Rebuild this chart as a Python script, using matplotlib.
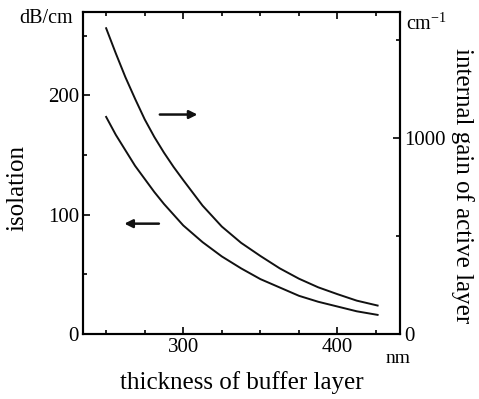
import numpy as np
import matplotlib
matplotlib.use("Agg")
from matplotlib import pyplot as plt
from matplotlib.ticker import MultipleLocator

matplotlib.rcParams.update({
    'font.family': 'serif',
    'font.serif': ['Liberation Serif', 'DejaVu Serif'],
    'mathtext.fontset': 'stix',
})

# buffer layer thickness (nm)
thickness = [250, 256.25, 262.5, 268.75, 275, 281.25, 287.5, 293.75, 300,
             312.5, 325, 337.5, 350, 362.5, 375, 387.5, 400, 412.5, 426]
# isolation (dB/cm), left axis
isolation = [182, 167, 154, 141, 130, 119, 109, 100, 91,
             77, 65, 55, 46, 39, 32, 27, 23, 19, 16]
# internal gain of active layer (cm^-1), right axis
gain = [1560, 1432, 1310, 1200, 1095, 1005, 925, 852, 785,
        655, 548, 465, 398, 335, 282, 238, 203, 170, 145]

fig = plt.figure(figsize=(4.79, 3.99), dpi=100)
ax = fig.add_axes([0.1733, 0.163, 0.6617, 0.807])
ax2 = ax.twinx()

ax.plot(thickness, isolation, color='#111111', lw=1.4, solid_joinstyle='round')
ax2.plot(thickness, gain, color='#111111', lw=1.4, solid_joinstyle='round')

ax.set_xlim(235, 440.5)
ax.set_ylim(0, 270)
ax2.set_ylim(0, 1643)

ax.xaxis.set_major_locator(MultipleLocator(100))
ax.xaxis.set_minor_locator(MultipleLocator(25))
ax.yaxis.set_major_locator(MultipleLocator(100))
ax.yaxis.set_minor_locator(MultipleLocator(50))
ax2.yaxis.set_major_locator(MultipleLocator(1000))
ax2.yaxis.set_minor_locator(MultipleLocator(500))

for a in (ax, ax2):
    for s in a.spines.values():
        s.set_linewidth(1.5)
    a.tick_params(which='both', direction='in', labelsize=15, width=1.2, pad=3)
    a.tick_params(which='major', length=5)
    a.tick_params(which='minor', length=3)
ax.tick_params(which='both', top=True, right=False)

# arrows pointing to the matching axis
ax.annotate('', xy=(311, 184), xytext=(283, 184),
            arrowprops=dict(arrowstyle='-|>', color='#111111', lw=1.8, mutation_scale=12))
ax.annotate('', xy=(260, 92.5), xytext=(286, 92.5),
            arrowprops=dict(arrowstyle='-|>', color='#111111', lw=1.8, mutation_scale=12))

ax.set_ylabel('isolation', fontsize=18, va='center')
ax.yaxis.set_label_coords(-0.208, 0.453)
ax.set_xlabel('thickness of buffer layer', fontsize=18, labelpad=10)
ax2.set_ylabel('internal gain of active layer', fontsize=18, rotation=270, va='center')
ax2.yaxis.set_label_coords(1.196, 0.46)

fig.text(0.040, 0.942, 'dB/cm', fontsize=14.5)
fig.text(0.848, 0.925, r'cm$^{\mathregular{-1}}$', fontsize=14.5)
fig.text(0.805, 0.09, 'nm', fontsize=14)

fig.savefig('out.png', dpi=100)
